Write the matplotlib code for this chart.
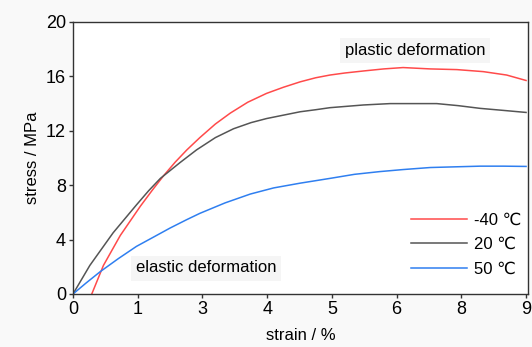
import matplotlib
matplotlib.use("Agg")
import matplotlib.pyplot as plt

# tick positions along the strain axis and the labels printed on them
tick_pos = [0, 1, 2, 3, 4, 5, 6, 7]
tick_lab = ["0", "1", "3", "4", "5", "6", "8", "9"]

# -40 C curve
red_x = [0.29, 0.47, 0.73, 1.04, 1.22, 1.40, 1.58, 1.76, 1.96, 2.20, 2.43, 2.70, 2.99,
         3.25, 3.51, 3.75, 3.97, 4.20, 4.49, 4.80, 5.10, 5.52, 5.93, 6.34, 6.70, 7.0]
red_y = [0.0, 2.1, 4.3, 6.45, 7.6, 8.7, 9.7, 10.6, 11.5, 12.5, 13.3, 14.1, 14.75,
         15.2, 15.6, 15.9, 16.1, 16.25, 16.4, 16.55, 16.65, 16.55, 16.5, 16.35, 16.1, 15.7]

# 20 C curve
black_x = [0.0, 0.26, 0.62, 0.98, 1.17, 1.35, 1.65, 1.91, 2.20, 2.48, 2.75, 2.99, 3.25,
           3.51, 3.75, 3.97, 4.49, 4.90, 5.26, 5.62, 5.95, 6.29, 6.65, 7.0]
black_y = [0.0, 2.1, 4.5, 6.55, 7.6, 8.5, 9.65, 10.6, 11.5, 12.15, 12.6, 12.9, 13.15,
           13.4, 13.55, 13.7, 13.9, 14.0, 14.0, 14.0, 13.85, 13.65, 13.5, 13.35]

# 50 C curve
blue_x = [0.0, 0.20, 0.42, 0.70, 0.98, 1.25, 1.5, 1.75, 1.96, 2.35, 2.74, 3.1, 3.51,
          3.97, 4.35, 4.74, 5.10, 5.52, 5.90, 6.29, 6.65, 7.0]
blue_y = [0.0, 0.8, 1.64, 2.6, 3.5, 4.2, 4.85, 5.45, 5.93, 6.7, 7.35, 7.8, 8.15,
          8.5, 8.8, 9.0, 9.15, 9.3, 9.35, 9.4, 9.4, 9.38]

series = [
    ("-40 \u2103", red_x, red_y, "#ff4a4a"),
    ("20 \u2103", black_x, black_y, "#555555"),
    ("50 \u2103", blue_x, blue_y, "#2f7ff0"),
]

plt.rcParams['font.family'] = ['Liberation Sans', 'DejaVu Sans']

fig = plt.figure(figsize=(5.32, 3.47), dpi=100, facecolor="#f9f9f9")
ax = fig.add_axes([73 / 532, 1 - 294 / 347, 455 / 532, 272 / 347])
ax.set_facecolor("white")

for name, xs, ys, c in series:
    ax.plot(xs, ys, color=c, lw=1.1, label=name)

ax.set_xlim(0, 7.03)
ax.set_ylim(0, 20)
ax.set_xticks(tick_pos)
ax.set_xticklabels(tick_lab)
ax.set_yticks([0, 4, 8, 12, 16, 20])
ax.tick_params(direction="out", length=3, width=1, labelsize=13, pad=2, color="#333333")
for s in ax.spines.values():
    s.set_color("#333333")
    s.set_linewidth(1.0)

ax.set_xlabel("strain / %", fontsize=12, labelpad=7)
ax.set_ylabel("stress / MPa", fontsize=12, labelpad=4)

box = dict(boxstyle="square,pad=0.3", fc="#f5f5f5", ec="none")
ax.annotate("plastic deformation", xy=(415 / 532, 1 - 50 / 347), xycoords="figure fraction",
            ha="center", va="center", fontsize=12, bbox=box)
ax.annotate("elastic deformation", xy=(206 / 532, 1 - 268 / 347), xycoords="figure fraction",
            ha="center", va="center", fontsize=12, bbox=box)

ax.legend(loc="lower right", bbox_to_anchor=(528 / 532, 1 - 283 / 347),
          bbox_transform=fig.transFigure, frameon=False, fontsize=12,
          handlelength=3.4, handletextpad=0.4, labelspacing=0.55, borderaxespad=0)

fig.savefig("out.png", dpi=100, facecolor=fig.get_facecolor())
